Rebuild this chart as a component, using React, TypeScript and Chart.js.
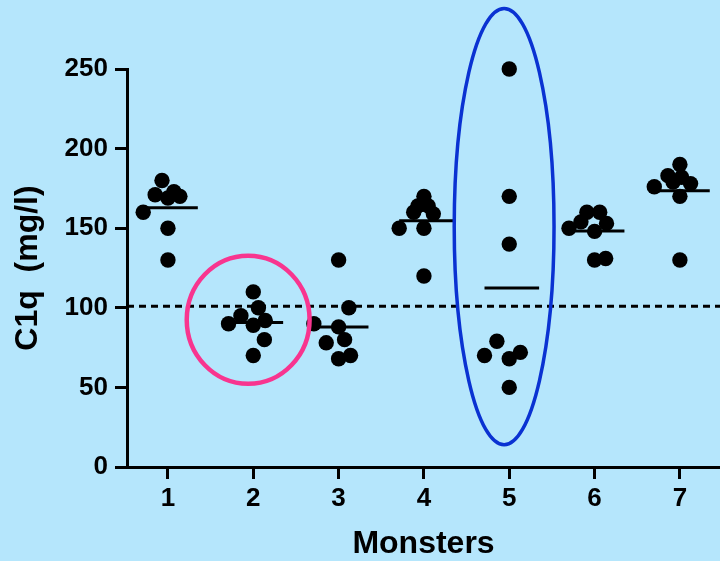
import React, { useEffect, useRef } from "react";
import { Chart, registerables } from "chart.js";

Chart.register(...registerables);

// Category positions along the x axis (one per monster)
const categories = [1, 2, 3, 4, 5, 6, 7];
const yTicks = [0, 50, 100, 150, 200, 250];

// C1q measurements (mg/l) per monster
const monster1 = [180, 171, 169, 173, 170, 160, 150, 130];
const monster2 = [110, 100, 90, 95, 89, 92, 80, 70];
const monster3 = [130, 100, 90, 88, 78, 80, 68, 70];
const monster4 = [170, 160, 164, 164, 159, 150, 150, 120];
const monster5 = [250, 170, 140, 79, 70, 68, 72, 50];
const monster6 = [160, 160, 154, 153, 150, 148, 130, 131];
const monster7 = [190, 183, 182, 178, 176, 179, 170, 130];

// Horizontal spread of each dot inside its column (category units)
const spread1 = [-0.07, -0.15, 0, 0.07, 0.14, -0.29, 0, 0];
const spread2 = [0, 0.06, -0.29, -0.145, 0, 0.14, 0.13, 0];
const spread3 = [0, 0.12, -0.29, 0, -0.145, 0.07, 0, 0.14];
const spread4 = [0, -0.12, -0.07, 0.05, 0.11, -0.29, 0, 0];
const spread5 = [0, 0, 0, -0.145, -0.29, 0, 0.13, 0];
const spread6 = [-0.09, 0.06, -0.16, 0.14, -0.3, 0, 0, 0.13];
const spread7 = [0, -0.14, 0.02, 0.125, -0.3, -0.08, 0, 0];

// Reference level (dashed line)
const referenceLevel = 101;

const groups = [monster1, monster2, monster3, monster4, monster5, monster6, monster7];
const spreads = [spread1, spread2, spread3, spread4, spread5, spread6, spread7];

// Highlight ellipses: centre and radii in data units
const highlights = [
  { cx: 1.94, cy: 92.5, rx: 0.72, ry: 40.2, color: "#f8358f", width: 4.5 },
  { cx: 4.94, cy: 151, rx: 0.585, ry: 137, color: "#0a32d2", width: 3.5 },
];

const X_MIN = 0.52;
const X_MAX = 7.47;

const FONT = "'Liberation Sans', Arial, Helvetica, sans-serif";
const BG = "#b5e6fc";

const highlightPlugin = {
  id: "highlightEllipses",
  afterDatasetsDraw(chart: any) {
    const { ctx, scales } = chart;
    const x = scales.x;
    const y = scales.y;
    highlights.forEach((h) => {
      const cx = x.getPixelForValue(h.cx);
      const cy = y.getPixelForValue(h.cy);
      const rx = Math.abs(x.getPixelForValue(h.cx + h.rx) - cx);
      const ry = Math.abs(y.getPixelForValue(h.cy + h.ry) - cy);
      ctx.save();
      ctx.beginPath();
      ctx.ellipse(cx, cy, rx, ry, 0, 0, Math.PI * 2);
      ctx.lineWidth = h.width;
      ctx.strokeStyle = h.color;
      ctx.stroke();
      ctx.restore();
    });
  },
};

export default function App() {
  const canvasRef = useRef<HTMLCanvasElement | null>(null);

  useEffect(() => {
    document.body.style.margin = "0";
    document.body.style.background = BG;
    const canvas = canvasRef.current;
    if (!canvas) return;

    const points: { x: number; y: number }[] = [];
    groups.forEach((vals, gi) => {
      vals.forEach((v, i) => {
        points.push({ x: categories[gi] + spreads[gi][i], y: v });
      });
    });

    const meanLines = groups.map((vals, gi) => {
      const mean = vals.reduce((a, b) => a + b, 0) / vals.length;
      const c = categories[gi];
      return {
        data: [
          { x: c - 0.29, y: mean },
          { x: c + 0.35, y: mean },
        ],
        showLine: true,
        borderColor: "#000",
        borderWidth: 3,
        pointRadius: 0,
        clip: false as any,
      };
    });

    const chart = new Chart(canvas, {
      type: "scatter",
      data: {
        datasets: [
          {
            data: points,
            pointRadius: 7.7,
            pointBackgroundColor: "#000",
            pointBorderWidth: 0,
            clip: false as any,
          },
          ...meanLines,
          {
            data: [
              { x: X_MIN, y: referenceLevel },
              { x: X_MAX, y: referenceLevel },
            ],
            showLine: true,
            borderColor: "#000",
            borderWidth: 3,
            borderDash: [7, 5],
            pointRadius: 0,
          },
        ] as any,
      },
      options: {
        animation: false,
        responsive: false,
        devicePixelRatio: 1,
        layout: { autoPadding: false, padding: { top: 69, left: 0, right: 0, bottom: 0 } },
        plugins: { legend: { display: false }, tooltip: { enabled: false } },
        scales: {
          x: {
            type: "linear",
            min: X_MIN,
            max: X_MAX,
            afterBuildTicks: (s: any) => {
              s.ticks = categories.map((v) => ({ value: v }));
            },
            afterFit: (s: any) => {
              s.height = 94;
            },
            grid: {
              drawOnChartArea: false,
              drawTicks: true,
              tickLength: 12,
              lineWidth: 3,
              color: "#000",
            },
            border: { color: "#000", width: 3 },
            ticks: {
              font: { family: FONT, size: 26, weight: "bold" },
              color: "#000",
              padding: 4,
              maxRotation: 0,
              autoSkip: false,
              callback: (v: any) => String(v),
            },
            title: {
              display: true,
              text: "Monsters",
              color: "#000",
              font: { family: FONT, size: 32, weight: "bold", lineHeight: 1 },
              padding: { top: 0, bottom: 1 },
            },
          },
          y: {
            min: 0,
            max: 250,
            afterBuildTicks: (s: any) => {
              s.ticks = yTicks.map((v) => ({ value: v }));
            },
            afterFit: (s: any) => {
              s.width = 127;
            },
            grid: {
              drawOnChartArea: false,
              drawTicks: true,
              tickLength: 12,
              lineWidth: 3,
              color: "#000",
            },
            border: { color: "#000", width: 3 },
            ticks: {
              font: { family: FONT, size: 26, weight: "bold" },
              color: "#000",
              padding: 7,
              callback: (v: any) => String(v),
            },
            title: {
              display: true,
              text: "C1q  (mg/l)",
              color: "#000",
              font: { family: FONT, size: 32, weight: "bold", lineHeight: 1 },
              padding: { top: 12, bottom: 0 },
            },
          },
        },
      } as any,
      plugins: [highlightPlugin],
    });

    return () => chart.destroy();
  }, []);

  return (
    <div style={{ width: 720, height: 561, background: BG }}>
      <canvas ref={canvasRef} width={720} height={561} style={{ display: "block" }} />
    </div>
  );
}
